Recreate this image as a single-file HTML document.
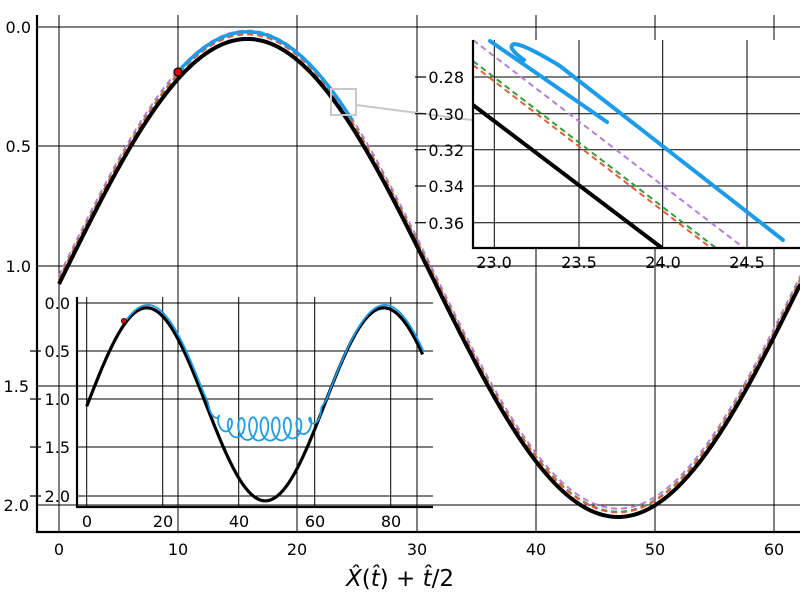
<!DOCTYPE html>
<html><head><meta charset="utf-8"><style>
html,body{margin:0;padding:0;background:#fff;}
svg{display:block;font-family:"DejaVu Sans","Liberation Sans",sans-serif;}
</style></head><body>
<svg id="s" width="800" height="600" viewBox="0 0 800 600" xmlns="http://www.w3.org/2000/svg">
<rect width="800" height="600" fill="#fff"/>
<g id="maingrid" stroke="#000" stroke-width="1"></g>
<g id="mainlines"></g>
<line x1="37" y1="15" x2="37" y2="533" stroke="#000" stroke-width="2.2"/>
<line x1="36" y1="532" x2="800" y2="532" stroke="#000" stroke-width="2.2"/>
<g font-size="16" fill="#000" text-anchor="end">
<text x="31" y="33">0.0</text><text x="31" y="152">0.5</text><text x="31" y="272">1.0</text><text x="29" y="392">1.5</text><text x="29" y="511">2.0</text>
</g>
<g font-size="16" fill="#000" text-anchor="middle">
<text x="59" y="555">0</text><text x="178" y="555">10</text><text x="297" y="555">20</text><text x="417" y="555">30</text><text x="536" y="555">40</text><text x="655" y="555">50</text><text x="774" y="555">60</text>
</g>
<text x="400" y="586" font-size="23" text-anchor="middle"><tspan font-style="italic">X̂</tspan>(<tspan font-style="italic">t̂</tspan>) + <tspan font-style="italic">t̂</tspan>/2</text>
<rect x="331" y="89" width="25" height="26" fill="none" stroke="#c8c8c8" stroke-width="2"/>
<line x1="356" y1="105" x2="472" y2="120" stroke="#c8c8c8" stroke-width="2"/>
<circle cx="178" cy="72" r="4" fill="#e00" stroke="#000" stroke-width="1.3"/>
<g id="ll"></g>
<line x1="77" y1="297" x2="77" y2="508" stroke="#000" stroke-width="2.2"/>
<line x1="76" y1="507" x2="433" y2="507" stroke="#000" stroke-width="2.2"/>
<g font-size="16" fill="#000" text-anchor="end">
<text x="70" y="309">0.0</text><text x="70" y="357">0.5</text><text x="70" y="405">1.0</text><text x="70" y="453">1.5</text><text x="70" y="502">2.0</text>
</g>
<g stroke="#000" stroke-width="1.2">
<line x1="30" y1="351" x2="41" y2="351"/><line x1="30" y1="399" x2="41" y2="399"/><line x1="30" y1="447" x2="41" y2="447"/><line x1="30" y1="496" x2="41" y2="496"/>
</g>
<g font-size="16" fill="#000" text-anchor="middle">
<text x="87" y="527">0</text><text x="163" y="527">20</text><text x="239" y="527">40</text><text x="315" y="527">60</text><text x="391" y="527">80</text>
</g>
<circle cx="124" cy="321" r="2.6" fill="#e00" stroke="#000" stroke-width="0.8"/>
<rect x="473" y="40" width="327" height="208" fill="#fff"/>
<g id="tr"></g>
<line x1="473" y1="40" x2="473" y2="249" stroke="#000" stroke-width="2.2"/>
<line x1="472" y1="248" x2="800" y2="248" stroke="#000" stroke-width="2.2"/>
<g font-size="16" fill="#000" text-anchor="end">
<text x="464" y="83">0.28</text><text x="464" y="120">0.30</text><text x="464" y="156">0.32</text><text x="464" y="192">0.34</text><text x="464" y="229">0.36</text>
</g>
<g stroke="#000" stroke-width="1.2">
<line x1="415" y1="77" x2="426" y2="77"/><line x1="415" y1="113.7" x2="426" y2="113.7"/><line x1="415" y1="149.7" x2="426" y2="149.7"/><line x1="415" y1="186" x2="426" y2="186"/><line x1="415" y1="222.7" x2="426" y2="222.7"/>
</g>
<g font-size="16" fill="#000" text-anchor="middle">
<text x="494" y="268">23.0</text><text x="579" y="268">23.5</text><text x="663" y="268">24.0</text><text x="747" y="268">24.5</text>
</g>
</svg>
<script>
(function(){
var NS="http://www.w3.org/2000/svg";
function el(p,n,a){var e=document.createElementNS(NS,n);for(var k in a)e.setAttribute(k,a[k]);p.appendChild(e);return e;}
function f(t){return 1.05-Math.cos(Math.PI*(t-15.8)/31.1);}
function g(t){return 1.05-Math.cos(Math.PI*(t-15.8)/31.2);}
var mg=document.getElementById('maingrid');
[59,178,297,417,536,655,774].forEach(function(x){el(mg,'line',{x1:x,y1:15,x2:x,y2:532});});
[27,146,266,386,505].forEach(function(y){el(mg,'line',{x1:37,y1:y,x2:800,y2:y});});
var ml=document.getElementById('mainlines');
function MX(t){return 59+t*11.92;} function MY(v){return 27+v*239;}
function path(fn,t0,t1,X,Y,step){var d='';for(var t=t0;t<=t1+1e-9;t+=step){d+=(d?'L':'M')+X(t).toFixed(2)+','+Y(fn(t)).toFixed(2);}return d;}
el(ml,'path',{d:path(function(t){return f(t)-0.035;},0,62.3,MX,MY,0.2),fill:'none',stroke:'#b77ed8','stroke-width':2,'stroke-dasharray':'6,4'});
el(ml,'path',{d:path(function(t){return f(t)-0.022;},0,62.3,MX,MY,0.2),fill:'none',stroke:'#3a9a3a','stroke-width':2,'stroke-dasharray':'6,4'});
el(ml,'path',{d:path(function(t){return f(t)-0.019;},0,62.3,MX,MY,0.2),fill:'none',stroke:'#e0603a','stroke-width':2,'stroke-dasharray':'6,4'});
el(ml,'path',{d:path(function(t){return f(t)-0.03;},10,24.6,MX,MY,0.2),fill:'none',stroke:'#1b9be8','stroke-width':3.5});
el(ml,'path',{d:path(f,0,62.3,MX,MY,0.2),fill:'none',stroke:'#000','stroke-width':4});
var ll=document.getElementById('ll');
[86.7,162.7,238.7,314.7,390.7].forEach(function(x){el(ll,'line',{x1:x,y1:297,x2:x,y2:507,stroke:'#000','stroke-width':1});});
[303,351,399,447,496].forEach(function(y){el(ll,'line',{x1:77,y1:y,x2:433,y2:y,stroke:'#000','stroke-width':1});});
function LX(t){return 86.7+t*3.8;} function LY(v){return 303+v*96.5;}
el(ll,'path',{d:path(g,0,88.5,LX,LY,0.2),fill:'none',stroke:'#000','stroke-width':3.2});
var d='';
for(var t=9.8;t<=88.5;t+=0.04){
 var b=g(t)-0.03;
 var gc=b<0.9?b:0.9+0.42*Math.tanh((b-0.9)/0.42);
 var k=(b-gc)/0.75; if(k<0)k=0; k=Math.min(1,Math.sqrt(k)*1.1);
 var w=2*Math.PI/3.0;
 var x=t+1.7*k*Math.sin(w*t);
 var y=gc+0.12*k*Math.cos(w*t)-0.01*k;
 d+=(d?'L':'M')+(LX(x)+1).toFixed(2)+','+LY(y).toFixed(2);
}
el(ll,'path',{d:d,fill:'none',stroke:'#1b9be8','stroke-width':1.8});
var tr=document.getElementById('tr');
[494.3,579,662.7,747].forEach(function(x){el(tr,'line',{x1:x,y1:40,x2:x,y2:248,stroke:'#000','stroke-width':1});});
[77,113.7,149.7,186,222.7].forEach(function(y){el(tr,'line',{x1:473,y1:y,x2:800,y2:y,stroke:'#000','stroke-width':1});});
el(tr,'line',{x1:473,y1:40,x2:744,y2:248,stroke:'#b77ed8','stroke-width':2,'stroke-dasharray':'6,4'});
el(tr,'line',{x1:473,y1:61,x2:716,y2:248,stroke:'#3a9a3a','stroke-width':2,'stroke-dasharray':'6,4'});
el(tr,'line',{x1:473,y1:65,x2:711,y2:248,stroke:'#e0603a','stroke-width':2,'stroke-dasharray':'6,4'});
el(tr,'line',{x1:473,y1:105,x2:662,y2:248,stroke:'#000','stroke-width':4});
el(tr,'path',{d:'M490,41 L607,122',fill:'none',stroke:'#1b9be8','stroke-width':4,'stroke-linecap':'round'});
el(tr,'path',{d:'M524,60 Q506,47 514,44 Q524,44 560,66 L783,240',fill:'none',stroke:'#1b9be8','stroke-width':4,'stroke-linecap':'round'});
})();
</script>
</body></html>
